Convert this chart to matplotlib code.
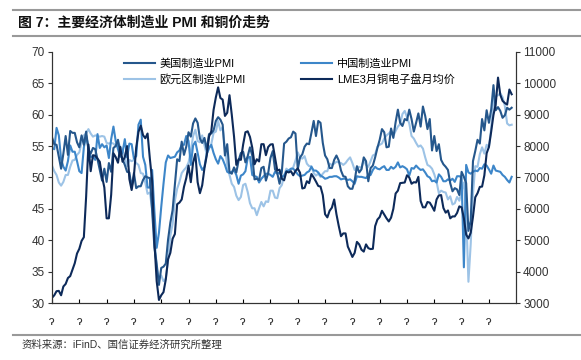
import numpy as np
import pandas as pd
import matplotlib
matplotlib.use('Agg')
import matplotlib.pyplot as plt
from matplotlib.lines import Line2D

plt.rcParams['font.family'] = ['Liberation Sans', 'Noto Sans CJK SC', 'DejaVu Sans']

# monthly data, Jan 2005 - Nov 2021
us_pmi = [
    56.4, 55.3, 55.2, 53.3, 51.4, 53.8, 56.6, 53.6, 57.4, 57.1, 57.1, 55.6,
    54.8, 56.7, 55.2, 57.3, 54.4, 53.8, 54.7, 54.5, 52.9, 51.2, 49.5, 51.4,
    49.3, 52.3, 50.9, 54.7, 55.0, 56.0, 53.8, 52.9, 52.0, 50.9, 50.8, 48.4,
    50.7, 48.3, 48.6, 48.6, 49.6, 50.2, 50.0, 49.9, 44.8, 38.9, 36.2, 32.9,
    35.6, 35.8, 36.3, 40.1, 42.8, 44.8, 48.9, 52.9, 52.6, 55.7, 53.6, 54.9,
    57.2, 56.5, 58.6, 59.4, 58.7, 56.2, 55.5, 56.3, 54.4, 56.9, 57.0, 57.5,
    59.0, 59.6, 59.2, 58.4, 53.5, 55.3, 50.9, 50.6, 51.6, 50.8, 52.7, 53.9,
    54.1, 52.4, 53.4, 54.8, 53.5, 49.7, 49.8, 49.6, 51.5, 51.7, 49.5, 50.7,
    53.1, 54.2, 51.3, 50.7, 49.0, 50.9, 55.4, 55.7, 56.2, 56.4, 57.3, 57.0,
    51.3, 53.2, 53.7, 54.9, 55.4, 55.3, 57.1, 59.0, 56.6, 59.0, 58.7, 55.5,
    53.5, 52.9, 51.5, 51.5, 52.8, 53.5, 52.7, 51.1, 50.2, 50.1, 48.6, 48.2,
    48.2, 49.5, 51.8, 50.8, 51.3, 53.2, 52.6, 49.4, 51.5, 51.9, 53.2, 54.7,
    56.0, 57.7, 57.2, 54.8, 54.9, 57.8, 56.3, 58.8, 60.8, 58.7, 58.2, 59.3,
    59.1, 60.8, 59.3, 57.3, 58.7, 60.2, 58.1, 61.3, 59.8, 57.7, 59.3, 54.3,
    56.6, 54.2, 55.3, 52.8, 52.1, 51.7, 51.2, 49.1, 47.8, 48.3, 48.1, 47.2,
    50.9, 50.1, 49.1, 41.5, 43.1, 52.6, 54.2, 56.0, 55.4, 59.3, 57.5, 60.7,
    58.7, 60.8, 64.7, 60.7, 61.2, 60.6, 59.5, 59.9, 61.1, 60.8, 61.1,
]
china_pmi = [
    54.7, 54.5, 57.9, 56.7, 52.9, 51.7, 51.1, 52.6, 55.1, 54.1, 54.1, 52.6,
    51.0, 50.7, 54.8, 56.7, 54.8, 53.3, 53.3, 52.8, 56.9, 54.7, 55.3, 54.8,
    55.1, 53.1, 56.1, 58.1, 55.8, 54.5, 53.3, 54.0, 56.1, 53.2, 55.4, 55.3,
    53.0, 53.4, 58.4, 59.2, 53.3, 52.0, 48.4, 48.4, 51.2, 44.6, 38.8, 41.2,
    45.3, 49.0, 52.4, 53.5, 53.1, 53.2, 53.3, 54.0, 54.3, 55.2, 55.2, 56.6,
    55.8, 52.0, 55.1, 55.7, 53.9, 52.1, 51.2, 51.7, 53.8, 54.7, 55.2, 53.9,
    52.9, 52.2, 53.4, 52.9, 52.0, 50.9, 50.7, 50.9, 51.2, 50.4, 49.0, 50.3,
    50.5, 51.0, 53.1, 53.3, 50.4, 50.2, 50.1, 49.2, 49.8, 50.2, 50.6, 50.6,
    50.4, 50.1, 50.9, 50.6, 50.8, 50.1, 50.3, 51.0, 51.1, 51.4, 51.4, 51.0,
    50.5, 50.2, 50.3, 50.4, 50.8, 51.0, 51.7, 51.1, 51.1, 50.8, 50.3, 50.1,
    49.8, 49.9, 50.1, 50.1, 50.2, 50.2, 50.0, 49.7, 49.8, 49.8, 49.6, 49.7,
    49.4, 49.0, 50.2, 50.1, 50.1, 50.0, 49.9, 50.4, 50.4, 51.2, 51.7, 51.4,
    51.3, 51.6, 51.8, 51.2, 51.2, 51.7, 51.4, 51.7, 52.4, 51.6, 51.8, 51.6,
    51.3, 50.3, 51.5, 51.4, 51.9, 51.5, 51.2, 51.3, 50.8, 50.2, 50.0, 49.4,
    49.5, 49.2, 50.5, 50.1, 49.4, 49.4, 49.7, 49.5, 49.8, 49.3, 50.2, 50.2,
    50.0, 35.7, 52.0, 50.8, 50.6, 50.9, 51.1, 51.0, 51.5, 51.4, 52.1, 51.9,
    51.3, 50.6, 51.9, 51.1, 51.0, 50.9, 50.4, 50.1, 49.6, 49.2, 50.1,
]
euro_pmi = [
    51.9, 51.0, 50.4, 49.2, 48.7, 49.3, 50.4, 50.4, 51.7, 52.7, 52.8, 53.6,
    54.0, 55.6, 56.7, 57.0, 57.7, 57.0, 56.5, 56.7, 56.6, 56.5, 56.6, 56.5,
    55.5, 55.4, 55.5, 55.4, 55.0, 55.6, 54.9, 54.3, 53.2, 51.8, 52.8, 52.6,
    52.8, 52.3, 52.0, 50.7, 50.6, 49.2, 47.4, 47.6, 45.0, 41.1, 35.6, 33.9,
    34.4, 33.5, 33.9, 36.8, 40.7, 42.6, 46.3, 48.2, 49.3, 50.7, 51.2, 51.6,
    52.4, 54.2, 56.6, 57.6, 55.8, 55.6, 56.7, 55.1, 53.7, 54.6, 55.3, 57.1,
    57.3, 59.0, 57.5, 58.0, 54.6, 52.0, 50.4, 49.0, 48.5, 47.1, 46.4, 46.9,
    48.8, 49.0, 47.7, 45.9, 45.1, 45.1, 44.0, 45.1, 46.1, 45.4, 46.2, 46.1,
    47.9, 47.9, 46.8, 46.7, 48.3, 48.8, 50.3, 51.4, 51.1, 51.3, 51.6, 52.7,
    54.0, 53.2, 53.0, 53.4, 52.2, 51.8, 51.8, 50.7, 50.3, 50.6, 50.1, 50.6,
    51.0, 51.0, 52.2, 52.0, 52.2, 52.5, 52.4, 52.3, 52.0, 52.3, 52.8, 53.2,
    52.3, 51.2, 51.6, 51.7, 51.5, 52.8, 52.0, 51.7, 52.6, 53.5, 53.7, 54.9,
    55.2, 55.4, 56.2, 56.7, 57.0, 57.4, 56.6, 57.4, 58.1, 58.5, 60.1, 60.6,
    59.6, 58.6, 56.6, 56.2, 55.5, 54.9, 55.1, 54.6, 53.2, 52.0, 51.8, 51.4,
    50.5, 49.3, 47.5, 47.9, 47.7, 47.6, 46.5, 47.0, 45.7, 45.9, 46.9, 46.3,
    47.9, 49.2, 44.5, 33.4, 39.4, 47.4, 51.8, 51.7, 53.7, 54.8, 53.8, 55.2,
    54.8, 57.9, 62.5, 62.9, 63.1, 63.4, 62.8, 61.4, 58.6, 58.3, 58.4,
]
copper = [
    3170, 3250, 3380, 3390, 3250, 3530, 3610, 3800, 3860, 4060, 4270, 4580,
    4730, 4980, 5100, 6390, 8050, 7200, 7710, 7690, 7600, 7500, 7030, 6680,
    5700, 5700, 6450, 7770, 7650, 7470, 7970, 7500, 7650, 8000, 6950, 6600,
    7050, 7950, 8450, 8650, 8350, 8250, 8400, 7600, 6900, 4950, 3700, 3100,
    3250, 3350, 3750, 4400, 4600, 5050, 5200, 6150, 6200, 6300, 6700, 6980,
    7380, 6850, 7470, 7750, 6850, 6500, 6750, 7300, 7700, 8300, 8470, 9150,
    9550, 9870, 9530, 9480, 8960, 9060, 9620, 9000, 8300, 7400, 7580, 7560,
    8050, 8440, 8470, 8290, 7950, 7420, 7580, 7510, 8060, 8060, 7710, 7970,
    8050, 8060, 7650, 7220, 7250, 6960, 6910, 7190, 7160, 7200, 7070, 7210,
    7290, 7150, 6650, 6670, 6880, 6820, 7110, 7000, 6870, 6730, 6710, 6440,
    5830, 5730, 5940, 6040, 6300, 5830, 5460, 5130, 5220, 5220, 4800, 4640,
    4470, 4600, 4950, 4870, 4700, 4640, 4870, 4750, 4720, 4730, 5450, 5660,
    5740, 5940, 5820, 5700, 5600, 5720, 6000, 6490, 6580, 6820, 6830, 6840,
    7070, 7000, 6800, 6850, 6840, 7020, 6250, 6050, 6050, 6220, 6200, 6080,
    5940, 6300, 6430, 6440, 6030, 5880, 5950, 5700, 5760, 5760, 5870, 6080,
    6050, 5700, 5180, 5060, 5240, 5750, 6370, 6500, 6700, 6710, 7070, 7770,
    7970, 8460, 8990, 9340, 10180, 9630, 9440, 9370, 9320, 9800, 9650,
]
tick_labels = ['ɂ'] * 17

months = pd.date_range('2005-01-01', periods=len(us_pmi), freq='MS')
x = np.arange(len(months))

c_us = '#25578C'
c_cn = '#3D86C9'
c_eu = '#9DC3E6'
c_cu = '#0D2A5A'

fig = plt.figure(figsize=(5.81, 3.6), dpi=100)
ax = fig.add_axes([0.0895, 0.158, 0.799, 0.698])
ax2 = ax.twinx()

ax.plot(x, euro_pmi, color=c_eu, lw=1.5)
ax.plot(x, china_pmi, color=c_cn, lw=1.5)
ax.plot(x, us_pmi, color=c_us, lw=1.5)
ax2.plot(x, copper, color=c_cu, lw=1.5)

ax.set_ylim(30, 70)
ax.set_yticks(range(30, 71, 5))
ax2.set_ylim(3000, 11000)
ax2.set_yticks(range(3000, 11001, 1000))
ax.set_xlim(0, 204)
ax.set_xticks(np.arange(0, 17 * 12, 12))
ax.set_xticklabels(tick_labels, fontsize=9, color='#333333')

for a in (ax, ax2):
    a.spines['top'].set_visible(False)
    for s in ('left', 'right', 'bottom'):
        a.spines[s].set_color('#333333')
        a.spines[s].set_linewidth(0.8)
ax.tick_params(axis='y', direction='out', length=3, labelsize=8.5, colors='#333333', pad=2)
ax2.tick_params(axis='y', direction='out', length=3, labelsize=8.5, colors='#333333', pad=2)
ax.tick_params(axis='x', direction='in', length=3, pad=9)

handles = [
    Line2D([], [], color=c_us, lw=1.5),
    Line2D([], [], color=c_eu, lw=1.5),
    Line2D([], [], color=c_cn, lw=1.5),
    Line2D([], [], color=c_cu, lw=1.5),
]
labels = ['美国制造业PMI', '欧元区制造业PMI', '中国制造业PMI', 'LME3月铜电子盘月均价']
ax.legend(handles, labels, ncol=2, loc='upper left', bbox_to_anchor=(0.133, 1.015),
          frameon=False, fontsize=8, handlelength=2.8, columnspacing=5.0,
          labelspacing=0.45, handletextpad=0.4)

# header / footer
fig.add_artist(Line2D([0.022, 1.0], [1 - 10 / 360, 1 - 10 / 360], color='#999999', lw=1.5))
fig.add_artist(Line2D([0.022, 1.0], [1 - 36 / 360, 1 - 36 / 360], color='#999999', lw=1.5))
fig.add_artist(Line2D([0.022, 1.0], [1 - 335 / 360, 1 - 335 / 360], color='#999999', lw=1.5))
fig.text(0.031, 1 - 23 / 360, '图 7：主要经济体制造业 PMI 和铜价走势', fontsize=10,
         fontweight='bold', va='center', ha='left', color='#111111')
fig.text(0.037, 1 - 345 / 360, '资料来源：iFinD、国信证券经济研究所整理', fontsize=7.5,
         va='center', ha='left', color='#333333')

fig.savefig('out.png', dpi=100)
